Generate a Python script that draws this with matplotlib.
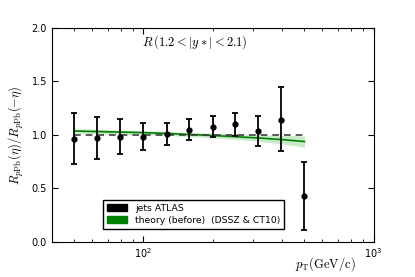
import numpy as np
import matplotlib
matplotlib.use("Agg")
import matplotlib.pyplot as plt
from matplotlib.patches import Patch

# ATLAS jet data points (pT in GeV/c)
pt = [50, 63, 79, 100, 126, 158, 200, 251, 316, 398, 501]
ratio = [0.965, 0.974, 0.983, 0.983, 1.011, 1.048, 1.076, 1.098, 1.039, 1.141, 0.425]
err_up = [0.235, 0.192, 0.161, 0.127, 0.102, 0.099, 0.096, 0.105, 0.136, 0.307, 0.319]
err_dn = [0.239, 0.196, 0.163, 0.124, 0.106, 0.096, 0.096, 0.109, 0.143, 0.294, 0.316]

# theory (before) DSSZ & CT10
th_center = [1.035, 1.030, 1.025, 1.020, 1.012, 1.003, 0.993, 0.982, 0.970, 0.955, 0.937]
th_half = [0.020, 0.020, 0.019, 0.018, 0.018, 0.019, 0.021, 0.025, 0.031, 0.040, 0.052]

plt.rcParams['font.size'] = 7
plt.rcParams['mathtext.fontset'] = 'cm'

fig = plt.figure(figsize=(4.15, 2.77), dpi=100)
ax = fig.add_subplot(111)
fig.subplots_adjust(left=0.125, right=0.9, bottom=0.127, top=0.9)

lo = np.array(th_center) - np.array(th_half)
hi = np.array(th_center) + np.array(th_half)
ax.fill_between(pt, lo, hi, color='#5cc85c', alpha=0.35, linewidth=0)
ax.plot(pt, th_center, color='green', linewidth=1.2)

ax.plot([pt[0], pt[-1]], [1.0, 1.0], color='#404040', linestyle='--', linewidth=1.2, dashes=(4, 3))

ax.errorbar(pt, ratio, yerr=[err_dn, err_up], fmt='o', color='black',
            markersize=3.5, elinewidth=1.3, capsize=2.5, capthick=1.3)

ax.set_xscale('log')
ax.set_xlim(40, 1000)
ax.set_ylim(0, 2.0)
ax.set_yticks([0.0, 0.5, 1.0, 1.5, 2.0])
ax.tick_params(which='both', direction='in', top=True, right=True, labelsize=7)
ax.tick_params(which='major', length=4)
ax.tick_params(which='minor', length=2)

ax.set_ylabel(r'$R_{p\mathrm{Pb}}(\eta)/R_{p\mathrm{Pb}}(-\eta)$', fontsize=9)
ax.set_xlabel(r'$p_{\mathrm{T}}(\mathrm{GeV/c})$', fontsize=9)
ax.xaxis.set_label_coords(0.85, -0.065)

ax.text(0.28, 0.915, r'$R\,(1.2<|y*|<2.1)$', transform=ax.transAxes, fontsize=9)

handles = [Patch(facecolor='black', edgecolor='black'),
           Patch(facecolor='green', edgecolor='green')]
ax.legend(handles, ['jets ATLAS', 'theory (before)  (DSSZ & CT10)'],
          loc='lower left', bbox_to_anchor=(0.145, 0.04), fontsize=6.7,
          fancybox=False, edgecolor='black', framealpha=1,
          handlelength=2.2, handleheight=0.8, borderpad=0.4, labelspacing=0.3)

fig.savefig('out.png', dpi=100)
